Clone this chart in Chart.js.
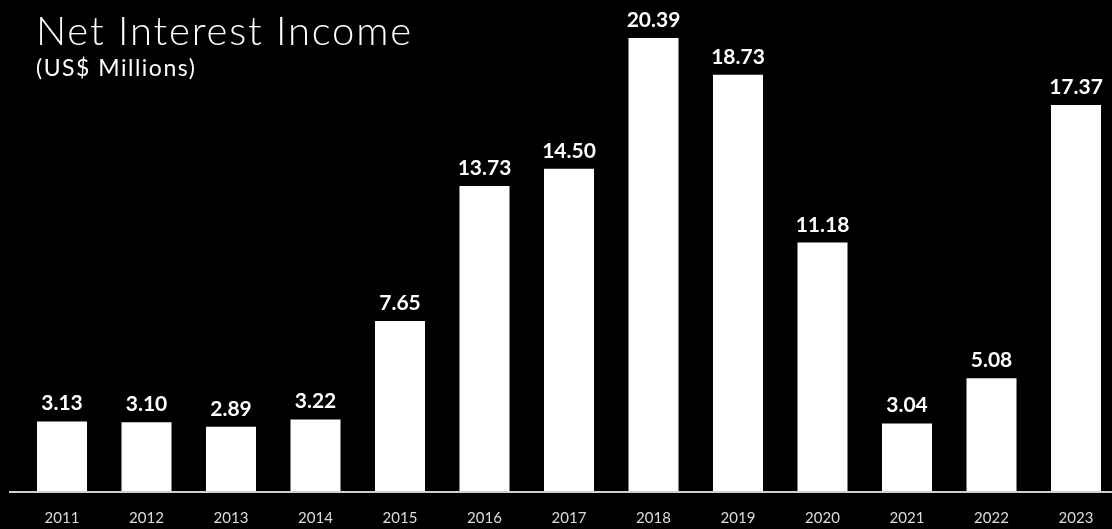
<!DOCTYPE html>
<html>
<head>
<meta charset="utf-8">
<script src="https://cdn.jsdelivr.net/npm/chart.js@4.4.0/dist/chart.umd.min.js"></script>
<style>
  html, body { margin: 0; padding: 0; background: #000; }
  #wrap { position: relative; width: 1112px; height: 529px; }
  #title { position: absolute; left: 36px; top: 8px; color: #fff; font-family: Lato, sans-serif; font-weight: 300; font-size: 40px; line-height: 44px; letter-spacing: 1.8px; }
  #subtitle { position: absolute; left: 36px; top: 54px; color: #fff; font-family: Lato, sans-serif; font-weight: 400; font-size: 23px; line-height: 26px; letter-spacing: 1.5px; }
</style>
</head>
<body>
<div id="wrap">
  <canvas id="nii"></canvas>
  <div id="title">Net Interest Income</div>
  <div id="subtitle">(US$ Millions)</div>
</div>
<script>
// data
const years = ['2011', '2012', '2013', '2014', '2015', '2016', '2017', '2018', '2019', '2020', '2021', '2022', '2023'];
const netInterest = [3.13, 3.10, 2.89, 3.22, 7.65, 13.73, 14.50, 20.39, 18.73, 11.18, 3.04, 5.08, 17.37];

// value labels above each bar
const valueLabels = {
  id: 'valueLabels',
  afterDatasetsDraw(chart) {
    const ctx = chart.ctx;
    const meta = chart.getDatasetMeta(0);
    ctx.save();
    ctx.fillStyle = '#fff';
    ctx.font = 'bold 21px Lato, sans-serif';
    ctx.textAlign = 'center';
    ctx.textBaseline = 'alphabetic';
    meta.data.forEach((bar, i) => {
      ctx.fillText(netInterest[i].toFixed(2), bar.x, bar.y - 11);
    });
    ctx.restore();
  }
};

// long base line under the bars
const baseLine = {
  id: 'baseLine',
  afterDatasetsDraw(chart) {
    const ctx = chart.ctx;
    const y = chart.scales.y.getPixelForValue(0) + 1;
    ctx.save();
    ctx.strokeStyle = '#d0d0d0';
    ctx.lineWidth = 2;
    ctx.beginPath();
    ctx.moveTo(9, y);
    ctx.lineTo(chart.width, y);
    ctx.stroke();
    ctx.restore();
  }
};

new Chart(document.getElementById('nii'), {
  type: 'bar',
  data: {
    labels: years,
    datasets: [{
      label: 'Net Interest Income',
      data: netInterest,
      backgroundColor: '#fff',
      borderWidth: 0,
      categoryPercentage: 1,
      barPercentage: 0.592,
      clip: false
    }]
  },
  options: {
    responsive: true,
    maintainAspectRatio: false,
    animation: false,
    layout: { padding: { left: 62, right: 36, top: 0, bottom: 0 } },
    plugins: {
      legend: { display: false },
      tooltip: { enabled: false }
    },
    scales: {
      x: {
        offset: false,
        grid: { display: false, drawTicks: false },
        border: { display: false },
        ticks: {
          color: '#dcdcdc',
          font: { family: 'Lato, sans-serif', size: 15 },
          padding: 18,
          maxRotation: 0,
          autoSkip: false
        },
        afterFit(scale) { scale.height = 38; }
      },
      y: {
        display: false,
        min: 0,
        max: 22.1
      }
    }
  },
  plugins: [valueLabels, baseLine]
});
</script>
</body>
</html>
